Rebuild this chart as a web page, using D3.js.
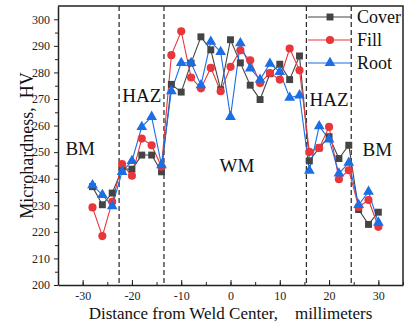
<!DOCTYPE html>
<html lang="en">
<head>
    <meta charset="UTF-8">
    <title>Microhardness profile</title>
    <script src="https://d3js.org/d3.v7.min.js"></script>
    <style>
        body { margin: 0; background: #fff; }
        svg { display: block; font-family: "Liberation Serif", "Times New Roman", serif; }
        .axis text { font-family: "Liberation Serif", "Times New Roman", serif; font-size: 12px; fill: #222; }
        .axis path, .axis line { stroke: #222; }
    </style>
</head>
<body>
<svg id="chart" width="407" height="326"></svg>
<script>
    // measurement positions (mm from weld center)
    const distance = [-28, -26, -24, -22, -20, -18, -16, -14, -12, -10, -8, -6, -4, -2, 0,
                      2, 4, 6, 8, 10, 12, 14, 16, 18, 20, 22, 24, 26, 28, 30];

    // hardness values, HV
    const cover = [237, 230.2, 234.6, 243.6, 243.6, 248.9, 248.9, 242.6, 275.5, 272.6, 283.5, 293.4, 288.5, 273.5, 292.3,
                   283.6, 275.2, 269.8, 279.5, 283.1, 277.3, 286.2, 246.7, 251.6, 255.8, 247.6, 252.6, 228.4, 222.8, 227.4];
    const fill = [229.2, 218.4, 231.3, 245.5, 241.1, 255.1, 252.6, 244.5, 286.5, 295.5, 278.1, 274, 281.7, 272.9, 282.1,
                  288.3, 284.6, 276, 279.8, 277.3, 289, 280.8, 250.1, 251.6, 259.5, 239.8, 243.2, 229.4, 232, 221.9];
    const root = [237.6, 233.9, 229.7, 242.6, 246.7, 259.5, 263.3, 245.1, 273, 283.6, 283.6, 275.2, 291.6, 287.7, 263.3,
                  291, 281.5, 277.3, 283.3, 280.2, 270.5, 271.4, 243, 259.8, 254.8, 242, 246, 230.1, 235.1, 223.5];

    const seriesNames = ["Cover", "Fill", "Root"];
    const zoneBounds = [-22.6, -13.5, 15.4, 24.5];
    const zoneLabels = [
        { text: "BM", x: -30.5, y: 249 },
        { text: "HAZ", x: -18, y: 269 },
        { text: "WM", x: 1.3, y: 242.6 },
        { text: "HAZ", x: 20, y: 267.2 },
        { text: "BM", x: 29.8, y: 248.5 }
    ];
    const xTicks = [-30, -20, -10, 0, 10, 20, 30];
    const yTicks = [200, 210, 220, 230, 240, 250, 260, 270, 280, 290, 300];

    const svg = d3.select("#chart");
    const margin = { left: 58, right: 4, top: 6, bottom: 41 };
    const W = +svg.attr("width"), H = +svg.attr("height");

    const x = d3.scaleLinear().domain([-35, 35]).range([margin.left, W - margin.right]);
    const y = d3.scaleLinear().domain([200, 305]).range([H - margin.bottom, margin.top]);

    const series = [
        { name: seriesNames[0], values: cover, color: "#444444", symbol: d3.symbolSquare, size: 48 },
        { name: seriesNames[1], values: fill, color: "#e8363b", symbol: d3.symbolCircle, size: 52 },
        { name: seriesNames[2], values: root, color: "#1a6ee6", symbol: d3.symbolTriangle, size: 50 }
    ];

    // minor ticks first, then major ticks with labels
    svg.append("g").attr("class", "axis")
        .attr("transform", `translate(0,${y(200)})`)
        .call(d3.axisBottom(x).tickValues(d3.range(-35, 36, 5)).tickSize(-3).tickFormat(""))
        .call(g => g.select(".domain").remove());
    svg.append("g").attr("class", "axis")
        .attr("transform", `translate(0,${y(200)})`)
        .call(d3.axisBottom(x).tickValues(xTicks).tickSizeInner(-5).tickSizeOuter(0)
            .tickPadding(6).tickFormat(d => String(d)))
        .call(g => g.select(".domain").attr("stroke-width", 1.5));

    svg.append("g").attr("class", "axis")
        .attr("transform", `translate(${x(-35)},0)`)
        .call(d3.axisLeft(y).tickValues(d3.range(205, 305, 10)).tickSize(3).tickFormat(""))
        .call(g => g.select(".domain").remove());
    svg.append("g").attr("class", "axis")
        .attr("transform", `translate(${x(-35)},0)`)
        .call(d3.axisLeft(y).tickValues(yTicks).tickSizeInner(4).tickSizeOuter(0).tickPadding(4))
        .call(g => g.select(".domain").attr("stroke-width", 1.5));

    // frame top and right
    svg.append("path")
        .attr("d", `M${x(-35)},${y(305)}H${x(35)}V${y(200)}`)
        .attr("fill", "none").attr("stroke", "#222").attr("stroke-width", 1.5);

    // zone boundaries
    svg.selectAll(".zone").data(zoneBounds).join("line")
        .attr("x1", d => x(d)).attr("x2", d => x(d))
        .attr("y1", y(305)).attr("y2", y(200))
        .attr("stroke", "#333").attr("stroke-width", 1.3)
        .attr("stroke-dasharray", "5,3");

    svg.selectAll(".zlabel").data(zoneLabels).join("text")
        .attr("x", d => x(d.x)).attr("y", d => y(d.y))
        .attr("text-anchor", "middle")
        .attr("font-size", 19).attr("fill", "#111")
        .text(d => d.text);

    // series
    const line = d3.line().x((d, i) => x(distance[i])).y(d => y(d));
    series.forEach(s => {
        svg.append("path").datum(s.values)
            .attr("d", line).attr("fill", "none")
            .attr("stroke", s.color).attr("stroke-width", 1.1);
    });
    series.forEach(s => {
        svg.append("g").selectAll("path").data(s.values).join("path")
            .attr("transform", (d, i) => `translate(${x(distance[i])},${y(d)})`)
            .attr("d", d3.symbol().type(s.symbol).size(s.size))
            .attr("fill", s.color);
    });

    // legend
    const legend = svg.append("g").attr("transform", "translate(308,17)");
    series.forEach((s, i) => {
        const g = legend.append("g").attr("transform", `translate(0,${i * 23})`);
        g.append("line").attr("x1", 0).attr("x2", 43)
            .attr("stroke", s.color).attr("stroke-width", 1.1);
        g.append("path").attr("transform", "translate(22,0)")
            .attr("d", d3.symbol().type(s.symbol).size(s.size)).attr("fill", s.color);
        g.append("text").attr("x", 49).attr("y", 6)
            .attr("font-size", 18).attr("fill", "#111").text(s.name);
    });

    // axis titles
    svg.append("text")
        .attr("x", (x(-35) + x(35)) / 2 + 0).attr("y", 319)
        .attr("text-anchor", "middle").attr("font-size", 17).attr("fill", "#111")
        .text("Distance from Weld Center,\u2003millimeters");
    svg.append("text")
        .attr("transform", `translate(33,${(y(200) + y(305)) / 2}) rotate(-90)`)
        .attr("text-anchor", "middle").attr("font-size", 18).attr("fill", "#111")
        .text("Microhardness,\u2002HV");
</script>
</body>
</html>
